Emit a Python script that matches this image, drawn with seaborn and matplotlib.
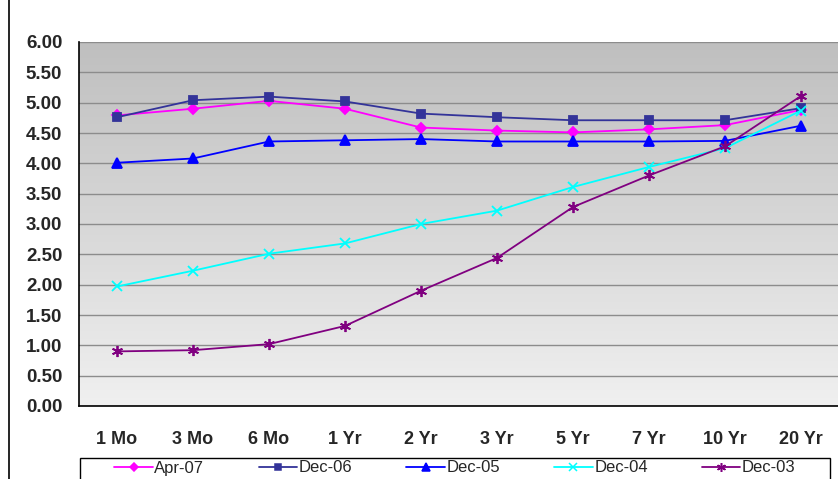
import numpy as np
import pandas as pd
import matplotlib
matplotlib.use("Agg")
import matplotlib.pyplot as plt
from matplotlib.lines import Line2D
from matplotlib.patches import Rectangle
from matplotlib.ticker import FixedLocator, FormatStrFormatter
import seaborn as sns

# Treasury yield curves by maturity
tenors = ["1 Mo", "3 Mo", "6 Mo", "1 Yr", "2 Yr", "3 Yr", "5 Yr", "7 Yr", "10 Yr", "20 Yr"]
apr07 = [4.79, 4.90, 5.03, 4.90, 4.59, 4.54, 4.51, 4.56, 4.63, 4.88]
dec06 = [4.76, 5.04, 5.10, 5.02, 4.82, 4.76, 4.71, 4.71, 4.71, 4.91]
dec05 = [4.01, 4.08, 4.36, 4.38, 4.40, 4.36, 4.36, 4.36, 4.37, 4.62]
dec04 = [1.97, 2.23, 2.51, 2.68, 3.00, 3.22, 3.61, 3.94, 4.25, 4.87]
dec03 = [0.90, 0.92, 1.02, 1.32, 1.90, 2.44, 3.28, 3.80, 4.28, 5.11]
series_names = ["Apr-07", "Dec-06", "Dec-05", "Dec-04", "Dec-03"]
y_ticks = [0.0, 0.5, 1.0, 1.5, 2.0, 2.5, 3.0, 3.5, 4.0, 4.5, 5.0, 5.5, 6.0]

sns.set_style("white")
plt.rcParams["font.family"] = ["Liberation Sans", "DejaVu Sans"]

W, H = 838, 479
fig = plt.figure(figsize=(W / 100, H / 100), dpi=100)
fig.patch.set_facecolor("white")

ax = fig.add_axes([79 / W, 1 - 406 / H, 760 / W, 364 / H])

# vertical gradient background (dark gray at top, near white at bottom)
grad = np.linspace(0, 1, 256).reshape(-1, 1)
cmap = matplotlib.colors.LinearSegmentedColormap.from_list("bg", ["#bfbfbf", "#f0f0f0"])
ax.imshow(grad, aspect="auto", cmap=cmap, extent=(-0.5, 9.5, 0.0, 6.0),
          origin="upper", zorder=0)
ax.set_facecolor("none")

styles = [
    ("D", "#ff00ff", 5.5),
    ("s", "#333399", 6.0),
    ("^", "#0000ff", 7.0),
    ("x", "#00ffff", 7.0),
    ((6, 2, 0), "#800080", 8.0),
]
data = [apr07, dec06, dec05, dec04, dec03]

handles = []
for name, vals, (mk, col, ms) in zip(series_names, data, styles):
    sns.lineplot(x=tenors, y=vals, ax=ax, sort=False, color=col, linewidth=1.3,
                 marker=mk, markersize=ms, markeredgecolor=col, markerfacecolor=col,
                 markeredgewidth=1.3, zorder=3)
    handles.append(Line2D([], [], color=col, linewidth=1.3, marker=mk,
                          markersize=ms * 0.8, markeredgecolor=col,
                          markerfacecolor=col, markeredgewidth=1.1, label=name))
leg = ax.get_legend()
if leg is not None:
    leg.remove()

ax.set_xlim(-0.5, 9.5)
ax.set_ylim(0, 6.0)

# horizontal gridlines
ax.yaxis.set_major_locator(FixedLocator(y_ticks))
ax.yaxis.set_major_formatter(FormatStrFormatter("%.2f"))
ax.grid(axis="y", color="#8c8c8c", linewidth=1.0, zorder=1)
ax.grid(axis="x", visible=False)
ax.set_axisbelow(False)
for gl in ax.get_ygridlines():
    gl.set_zorder(1)

# category labels centered, tick marks on category boundaries
ax.set_xticks(range(len(tenors)))
ax.set_xticklabels(tenors)
ax.set_xticks(np.arange(-0.5, 9.6, 1.0), minor=True)
ax.tick_params(axis="x", which="major", length=0, pad=18, labelsize=13)
ax.tick_params(axis="x", which="minor", length=5, width=1, color="black", direction="out")
ax.tick_params(axis="y", which="major", length=5, width=1, color="black",
               direction="out", pad=7, labelsize=13.5)
for lbl in ax.get_xticklabels() + ax.get_yticklabels():
    lbl.set_fontweight("bold")
ax.set_xlabel("")
ax.set_ylabel("")

for side in ["top", "right"]:
    ax.spines[side].set_visible(False)
for side in ["left", "bottom"]:
    ax.spines[side].set_color("black")
    ax.spines[side].set_linewidth(1.2)
    ax.spines[side].set_zorder(4)

# outer chart border on the left
fig.add_artist(Line2D([8.5 / W, 8.5 / W], [0, 1], color="black", linewidth=1.2,
                      transform=fig.transFigure))

# legend box along the bottom edge
fig.add_artist(Rectangle((80 / W, -0.05), 750 / W, 0.05 + (479 - 457.5) / H,
                         transform=fig.transFigure, facecolor="white",
                         edgecolor="black", linewidth=1.0, zorder=5))
leg = fig.legend(handles=handles, loc="center", ncol=5,
                 bbox_to_anchor=(455 / W, 1 - 468 / H),
                 frameon=False, fontsize=12, handlelength=2.3, handletextpad=0.1,
                 borderpad=0.0, columnspacing=3.25)
leg.set_zorder(6)

fig.savefig("out.png", dpi=100, facecolor="white")
